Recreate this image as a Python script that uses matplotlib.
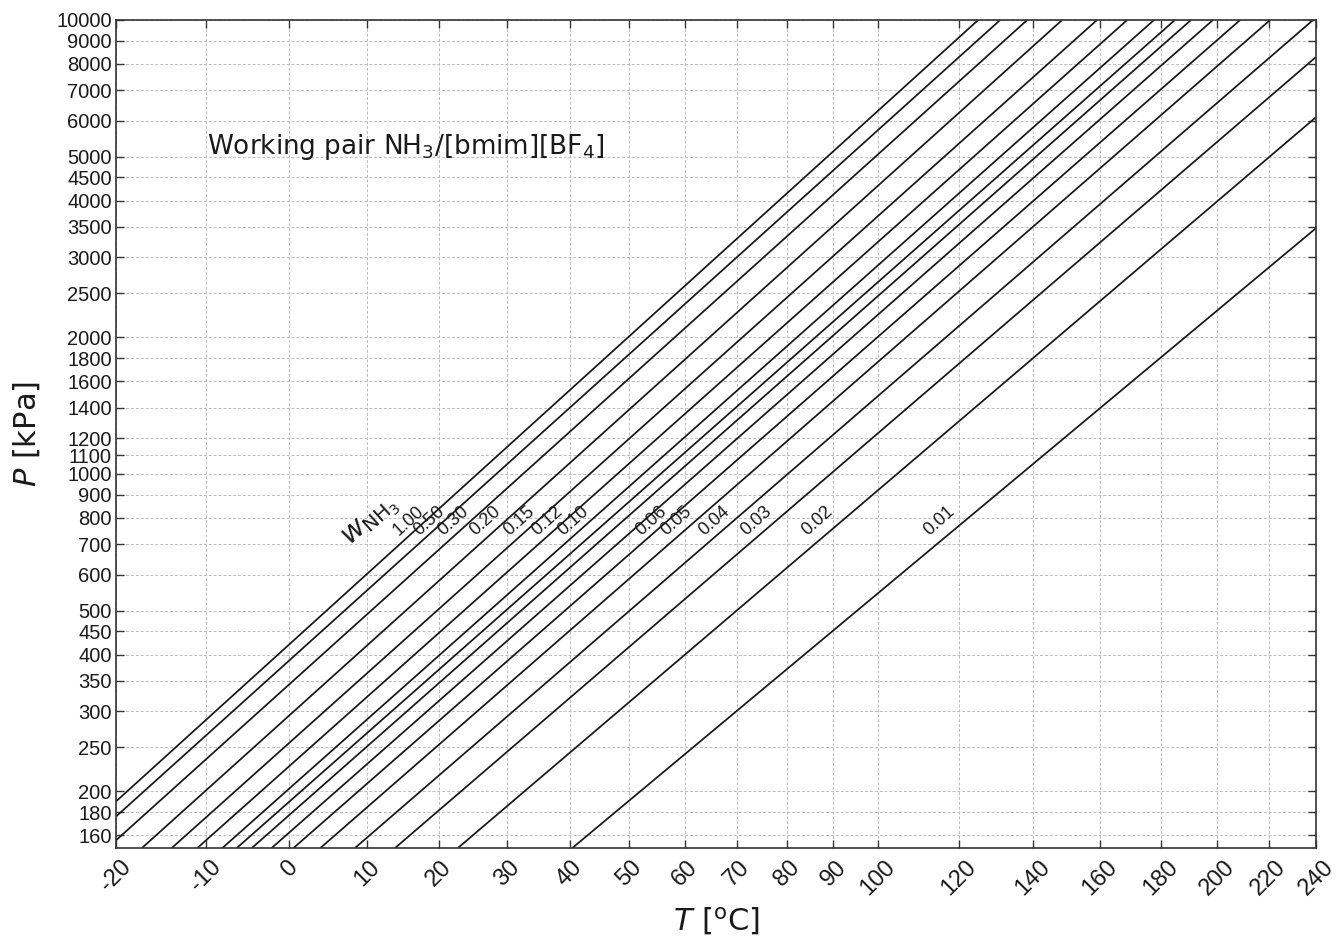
import matplotlib
matplotlib.use("Agg")
import matplotlib.pyplot as plt
import numpy as np
from matplotlib.ticker import NullLocator, NullFormatter

plt.rcParams['mathtext.default'] = 'regular'

# mass fraction of NH3 for each line (None = line drawn without label)
w_labels = ['1.00', '0.50', '0.30', '0.20', '0.15', '0.12', '0.10', None, None, None,
            '0.06', '0.05', '0.04', '0.03', '0.02', '0.01']

# where each line enters the plot (T in degC, P in kPa)
t_start = [-20, -20, -20, -17.2, -13.9, -11.0, -8.1, -6.4, -4.6, -2.2, 0.5, 3.9, 8.4, 13.8, 22.7, 40.4]
p_start = [190, 176, 156, 150, 150, 150, 150, 150, 150, 150, 150, 150, 150, 150, 150, 150]

# where each line leaves the plot
t_end = [124.9, 130.8, 138.3, 148.4, 159.0, 168.6, 177.5, 184.7, 190.4, 198.4, 208.7, 220.6, 238.7, 240, 240, 240]
p_end = [10000]*13 + [8290, 6110, 3480]

x_ticks = [-20, -10, 0, 10, 20, 30, 40, 50, 60, 70, 80, 90, 100, 120, 140, 160, 180, 200, 220, 240]
y_ticks = [160, 180, 200, 250, 300, 350, 400, 450, 500, 600, 700, 800, 900, 1000, 1100, 1200,
           1400, 1600, 1800, 2000, 2500, 3000, 3500, 4000, 4500, 5000, 6000, 7000, 8000, 9000, 10000]

# label positions along the lines (T in degC at P ~ 790 kPa)
lab_t = [15.7, 18.6, 22.1, 26.7, 31.9, 36.3, 40.5, None, None, None, 53.9, 58.4, 65.5, 73.8, 86.4, 114.8]
lab_p = 790


def fwd(t):
    t = np.asarray(t, dtype=float)
    return -1.0 / (t + 273.15)


def inv(v):
    v = np.asarray(v, dtype=float)
    return -1.0 / v - 273.15


fig = plt.figure(figsize=(13.38, 9.43), dpi=100)
ax = fig.add_axes([0.0867, 0.1007, 0.8969, 0.8781])
ax.set_xscale('function', functions=(fwd, inv))
ax.set_yscale('log')

for i in range(len(w_labels)):
    ax.plot([t_start[i], t_end[i]], [p_start[i], p_end[i]], color="#161616", lw=1.25, solid_capstyle='butt')

for i in range(len(w_labels)):
    if w_labels[i] is None:
        continue
    ax.text(lab_t[i], lab_p, w_labels[i], rotation=42, ha='center', va='center',
            fontsize=13, family='Liberation Sans', color="#1a1a1a")

ax.text(10.6, 784, r'$\mathit{w}_{\mathrm{NH}_3}$', rotation=42, ha='center', va='center',
        fontsize=21, color="#1a1a1a")

ax.text(0.0758, 0.8466, r'Working pair NH$_3$/[bmim][BF$_4$]', transform=ax.transAxes,
        ha='left', va='center', fontsize=18.9, color="#1a1a1a")

ax.set_xlim(-20, 240)
ax.set_ylim(150, 10000)

ax.set_xticks(x_ticks)
ax.set_xticklabels([str(t) for t in x_ticks], rotation=45, ha='center', va='top',
                   fontsize=17, family='Liberation Sans')
ax.xaxis.set_minor_locator(NullLocator())
ax.set_yticks(y_ticks)
ax.set_yticklabels([str(p) for p in y_ticks], fontsize=14.5, family='Liberation Sans')
ax.yaxis.set_minor_locator(NullLocator())
ax.yaxis.set_minor_formatter(NullFormatter())

ax.tick_params(direction='in', top=True, right=True, length=6, width=1.0, colors="#333333", labelcolor="#1a1a1a")
ax.tick_params(axis='x', pad=6)
ax.tick_params(axis='y', pad=3)

ax.grid(True, which='major', ls=(0, (3, 2)), color="#bbbbbb", lw=0.7)
ax.set_axisbelow(True)
for s in ax.spines.values():
    s.set_color("#333333")
    s.set_linewidth(1.2)

ax.set_xlabel(r'$\mathit{T}$ [$^{\mathrm{o}}$C]', fontsize=22, color="#1a1a1a", labelpad=4)
ax.set_ylabel(r'$\mathit{P}$ [kPa]', fontsize=22, color="#1a1a1a", labelpad=10)

fig.savefig("out.png", dpi=100)
